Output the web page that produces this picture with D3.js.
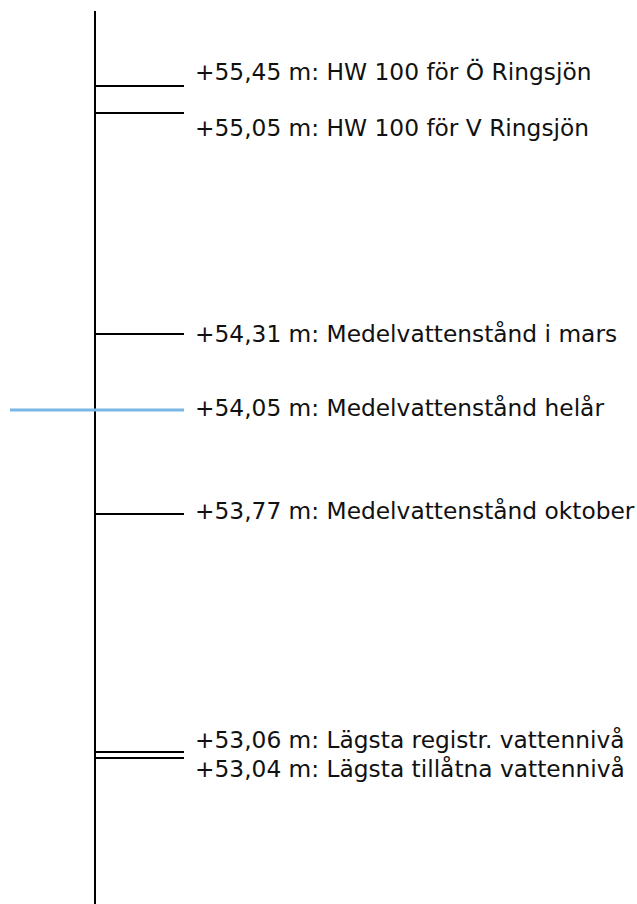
<!DOCTYPE html>
<html>
<head>
<meta charset="utf-8">
<script src="https://cdn.jsdelivr.net/npm/d3@7"></script>
<style>
  html, body { margin: 0; padding: 0; background: #fff; }
  svg { display: block; }
  text { font-family: "DejaVu Sans", "Noto Sans", sans-serif; }
</style>
</head>
<body>
<div id="chart"></div>
<script>
// ---- data ----
const levels = [55.45, 55.05, 54.31, 54.05, 53.77, 53.06, 53.04];
const descriptions = [
  "HW 100 för Ö Ringsjön",
  "HW 100 för V Ringsjön",
  "Medelvattenstånd i mars",
  "Medelvattenstånd helår",
  "Medelvattenstånd oktober",
  "Lägsta registr. vattennivå",
  "Lägsta tillåtna vattennivå"
];
const highlighted = ["Medelvattenstånd helår"];

// ---- layout ----
const W = 637, H = 904;
const axisX = 95, tickEnd = 184, labelX = 195;
// schematic (non-linear) vertical placement of the levels
const levelY = [86, 113, 334, 410, 514, 752, 758];
const baselineShift = [-6, 23, 8, 6, 5, -4, 19];

const y = d3.scaleLinear().domain(levels).range(levelY);

const svg = d3.select("#chart").append("svg")
  .attr("width", W).attr("height", H);

// vertical staff
svg.append("line")
  .attr("x1", axisX).attr("x2", axisX)
  .attr("y1", 11).attr("y2", H)
  .attr("stroke", "#000").attr("stroke-width", 2);

const items = levels.map((v, i) => ({ v, desc: descriptions[i], i }));

svg.selectAll("line.lvl").data(items).enter().append("line")
  .attr("class", "lvl")
  .attr("x1", d => highlighted.includes(d.desc) ? 10 : axisX)
  .attr("x2", tickEnd)
  .attr("y1", d => y(d.v)).attr("y2", d => y(d.v))
  .attr("stroke", d => highlighted.includes(d.desc) ? "#78b6e4" : "#000")
  .attr("stroke-width", d => highlighted.includes(d.desc) ? 3 : 2);

const fmt = v => "+" + v.toFixed(2).replace(".", ",") + " m: ";

svg.selectAll("text.lbl").data(items).enter().append("text")
  .attr("class", "lbl")
  .attr("x", labelX)
  .attr("y", d => y(d.v) + baselineShift[d.i])
  .attr("font-size", 23.3)
  .attr("fill", "#111")
  .text(d => fmt(d.v) + d.desc);
</script>
</body>
</html>
